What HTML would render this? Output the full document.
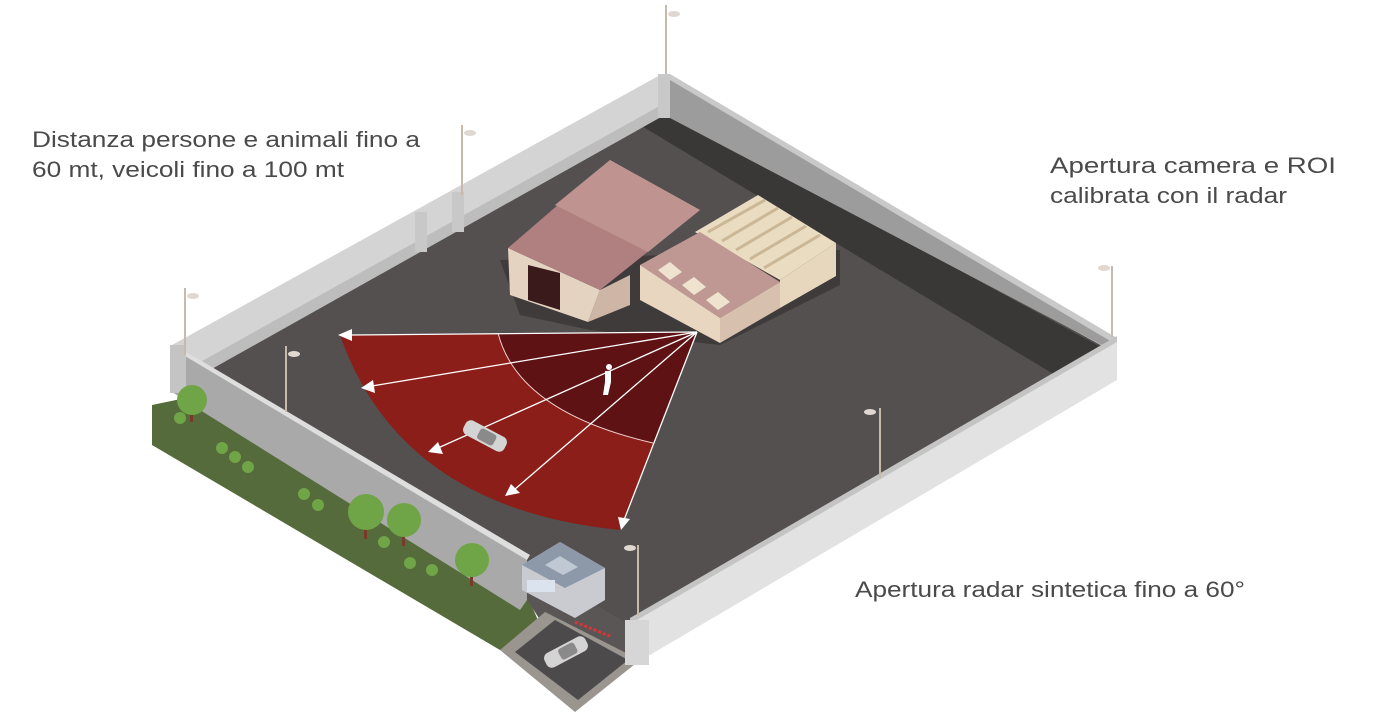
<!DOCTYPE html>
<html><head><meta charset="utf-8"><style>
html,body{margin:0;padding:0;background:#fff;}
svg{display:block}
text{font-family:"Liberation Sans",Arial,sans-serif;fill:#4a4a4a;font-size:22px}
</style></head><body>
<svg width="1392" height="727" viewBox="0 0 1392 727" xmlns="http://www.w3.org/2000/svg">
<!-- grass -->
<polygon points="152,405 200,395 525,590 540,625 500,650 152,445" fill="#566b3b"/>
<!-- gap fill -->
<polygon points="520,588 610,592 634,618 634,662 600,645 545,628" fill="#5a5656"/>
<!-- entry path -->
<polygon points="500,650 545,612 640,660 575,712" fill="#9a958f"/>
<polygon points="515,652 555,620 628,660 578,700" fill="#4c4a4a"/>
<!-- floor -->
<polygon points="195,368 665,108 1110,350 635,628" fill="#545050"/>
<polygon points="668,112 1110,352 1110,365 1060,378 640,125" fill="#3a3837"/>
<polygon points="670,78 1115,343 1115,352 670,118" fill="#9c9c9c"/>
<polygon points="670,74 1117,338 1117,345 670,80" fill="#c9c9c9"/>
<polygon points="172,345 662,74 670,80 670,100 200,362 180,360" fill="#d4d4d4"/>
<polygon points="200,362 670,100 670,112 210,370" fill="#bdbdbd"/>
<rect x="415" y="212" width="12" height="40" fill="#c8c8c8"/>
<rect x="452" y="192" width="12" height="40" fill="#c8c8c8"/>
<rect x="658" y="74" width="12" height="44" fill="#c8c8c8"/>
<!-- front-left wall -->
<polygon points="172,345 185,352 527,555 527,600 520,610 200,410 172,392" fill="#a9a9a9"/>
<polygon points="172,345 200,360 530,555 527,560 185,356 172,350" fill="#dedede"/>
<rect x="170" y="345" width="16" height="48" fill="#c4c4c4"/>
<!-- front-right wall -->
<polygon points="630,622 1117,340 1117,380 650,655 630,655" fill="#e2e2e2"/>
<polygon points="630,618 1117,336 1117,342 630,624" fill="#c4c4c4"/>
<rect x="625" y="620" width="24" height="45" fill="#d6d6d6"/>
<!-- building -->
<polygon points="500,260 520,315 590,330 720,345 840,285 840,250" fill="#3f3b3b"/>
<polygon points="695,232 758,195 836,243 780,280" fill="#e9dcc0"/>
<polygon points="780,280 836,243 836,276 780,308" fill="#e7d8bd"/>
<g stroke="#cbb795" stroke-width="3"><line x1="708" y1="232" x2="765" y2="200"/><line x1="722" y1="241" x2="778" y2="208"/><line x1="736" y1="250" x2="792" y2="217"/><line x1="750" y1="259" x2="806" y2="226"/><line x1="764" y1="268" x2="820" y2="235"/></g>
<polygon points="508,248 510,295 588,322 600,290" fill="#e5d3c2"/>
<polygon points="528,265 528,300 560,310 560,273" fill="#3a1a1a"/>
<polygon points="588,322 600,290 630,275 630,305" fill="#cdb6a6"/>
<polygon points="508,248 610,160 700,210 600,290" fill="#b07f80"/>
<polygon points="555,205 610,160 700,210 648,252" fill="#bf9490"/>
<polygon points="640,265 700,232 780,282 720,318" fill="#c09893"/>
<polygon points="640,265 720,318 720,343 640,300" fill="#e8d6c1"/>
<polygon points="720,318 780,282 780,308 720,343" fill="#d7c0ad"/>
<g fill="#efe3d0"><polygon points="658,270 670,262 682,272 670,280"/><polygon points="682,285 694,277 706,287 694,295"/><polygon points="706,300 718,292 730,302 718,310"/></g>
<!-- radar fan -->
<path d="M697,332 L340,335 Q400,508 620,530 Z" fill="#8b1e18"/>
<path d="M697,332 L498,333 Q518,412 653,443 Z" fill="#5e1214"/>
<path d="M498,333 Q518,412 653,443" fill="none" stroke="#f0d0d0" stroke-width="1"/>
<g stroke="#fff" stroke-width="1.3" fill="none">
<line x1="697" y1="332" x2="350" y2="335"/><line x1="697" y1="332" x2="372" y2="386"/><line x1="697" y1="332" x2="438" y2="448"/><line x1="697" y1="332" x2="514" y2="490"/><line x1="697" y1="332" x2="624" y2="520"/>
</g>
<g fill="#fff">
<polygon points="338,335 352,329 352,341"/><polygon points="361,388 373,380 375,393"/><polygon points="428,452 438,442 443,454"/><polygon points="505,496 511,484 520,493"/><polygon points="621,530 618,517 630,519"/>
</g>
<g fill="#fff"><circle cx="609" cy="367" r="3"/><rect x="605" y="371" width="6" height="11"/><polygon points="605,382 611,382 608,395 603,395"/></g>
<g transform="rotate(28 485 436)"><rect x="462" y="428" width="46" height="16" rx="6" fill="#d4d4d4"/><rect x="478" y="430" width="18" height="12" rx="3" fill="#8a8a8a"/></g>
<g transform="rotate(-28 566 652)"><rect x="543" y="644" width="46" height="16" rx="6" fill="#d4d4d4"/><rect x="559" y="646" width="18" height="12" rx="3" fill="#8a8a8a"/></g>
<!-- guard house -->
<polygon points="522,565 560,542 605,568 605,600 575,618 522,590" fill="#c9cbd0"/>
<polygon points="522,565 560,542 605,568 565,588" fill="#8d98a8"/>
<polygon points="545,565 560,556 578,567 563,575" fill="#c0c8d4"/>
<rect x="527" y="580" width="28" height="12" fill="#dbe3ee"/>
<line x1="575" y1="622" x2="612" y2="637" stroke="#d33" stroke-width="3" stroke-dasharray="3 2"/>
<!-- trees -->
<g fill="#7a3a2a"><rect x="190" y="410" width="3" height="12"/><rect x="364" y="525" width="3" height="14"/><rect x="402" y="532" width="3" height="14"/><rect x="470" y="572" width="3" height="14"/></g>
<g fill="#6fa447">
<circle cx="192" cy="400" r="15"/><circle cx="366" cy="512" r="18"/><circle cx="404" cy="520" r="17"/><circle cx="472" cy="560" r="17"/>
<circle cx="180" cy="418" r="6"/><circle cx="222" cy="448" r="6"/><circle cx="235" cy="457" r="6"/><circle cx="248" cy="467" r="6"/><circle cx="304" cy="494" r="6"/><circle cx="318" cy="505" r="6"/><circle cx="384" cy="542" r="6"/><circle cx="410" cy="563" r="6"/><circle cx="432" cy="570" r="6"/>
</g>
<!-- lamps -->
<g stroke="#c8b9ad" stroke-width="2">
<line x1="666" y1="5" x2="666" y2="74"/><line x1="462" y1="125" x2="462" y2="195"/><line x1="185" y1="288" x2="185" y2="355"/><line x1="286" y1="346" x2="286" y2="412"/><line x1="1112" y1="266" x2="1112" y2="337"/><line x1="880" y1="408" x2="880" y2="478"/><line x1="638" y1="545" x2="638" y2="615"/>
</g>
<g fill="#e0d8d0"><ellipse cx="674" cy="14" rx="6" ry="3"/><ellipse cx="470" cy="133" rx="6" ry="3"/><ellipse cx="193" cy="296" rx="6" ry="3"/><ellipse cx="294" cy="354" rx="6" ry="3"/><ellipse cx="1104" cy="268" rx="6" ry="3"/><ellipse cx="870" cy="412" rx="6" ry="3"/><ellipse cx="630" cy="548" rx="6" ry="3"/></g>
<!-- text -->
<text x="32" y="147" textLength="388" lengthAdjust="spacingAndGlyphs">Distanza persone e animali fino a</text>
<text x="32" y="177" textLength="312" lengthAdjust="spacingAndGlyphs">60 mt, veicoli fino a 100 mt</text>
<text x="1050" y="173" textLength="286" lengthAdjust="spacingAndGlyphs">Apertura camera e ROI</text>
<text x="1050" y="203" textLength="237" lengthAdjust="spacingAndGlyphs">calibrata con il radar</text>
<text x="855" y="597" textLength="390" lengthAdjust="spacingAndGlyphs">Apertura radar sintetica fino a 60°</text>
</svg>
</body></html>
